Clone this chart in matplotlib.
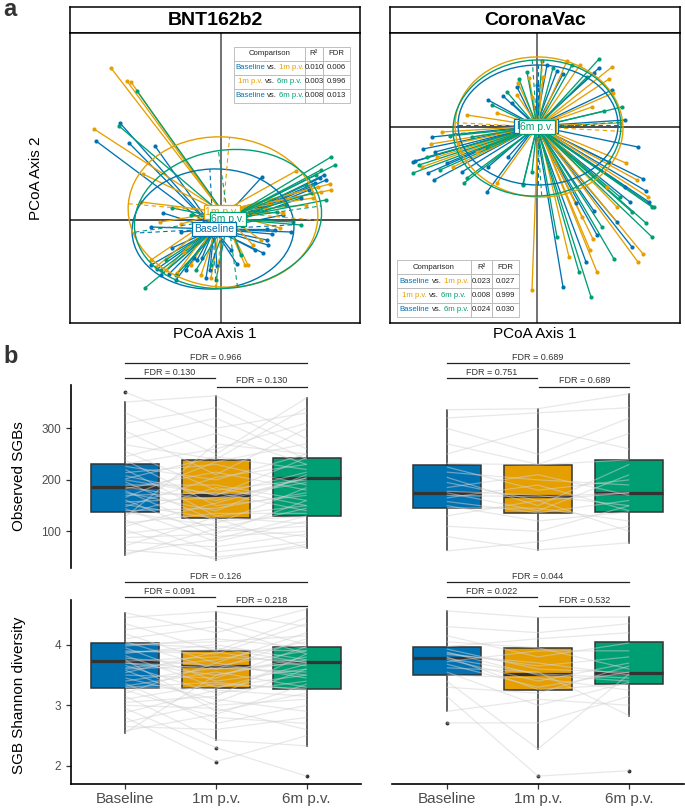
import numpy as np
import matplotlib
matplotlib.use("Agg")
import matplotlib.pyplot as plt
from matplotlib.patches import Ellipse, Rectangle
from matplotlib.collections import LineCollection
from matplotlib.offsetbox import TextArea, HPacker, AnnotationBbox

plt.rcParams["font.family"] = ["Liberation Sans", "DejaVu Sans"]

groups = ["Baseline", "1m p.v.", "6m p.v."]
colors = ["#0072B2", "#E69F00", "#009E73"]
comparisons = [(0, 1), (1, 2), (0, 2)]

# ---------------- panel a : PCoA scores (x1000), (axis1, axis2)
bnt_baseline = [(-101, 97), (-125, 79), (-92, 77), (-66, 74), (103, 45), (99, 42), (94, 37), (41, 43),
                (46, -9), (54, -10), (51, -14), (46, -20), (42, -33), (34, -30), (16, -44), (47, -25),
                (105, 40), (88, 30), (80, 22), (62, 5), (70, -12), (-70, -7), (-58, 7), (-40, -12),
                (-64, -49), (-52, -54), (-49, -28), (-27, -38), (-24, -40), (-19, -38), (-11, -50),
                (-4, -46), (-60, -55), (-45, -60), (-35, -50), (-15, -58), (-70, -45), (10, -30)]
bnt_1m = [(-110, 152), (-94, 139), (-90, 138), (-127, 91), (-78, 46), (109, 36), (97, 33), (92, 22),
          (75, 49), (62, 7), (59, -8), (32, -25), (27, -45), (24, -45), (100, 28), (85, 15), (110, 30),
          (-61, -2), (-80, 18), (-40, -4), (-65, -47), (-44, -53), (-37, -32), (-55, -50), (-30, -45),
          (-70, -40), (-20, -55), (-10, -58), (40, -20)]
bnt_6m = [(-84, 129), (-102, 94), (110, 63), (114, 55), (91, 27), (72, -2), (56, 8), (95, 45), (100, 50),
          (85, 35), (105, 20), (65, 15), (80, -5), (-49, 12), (-30, 5), (-76, -68), (-60, -50), (-45, -55),
          (-55, -40), (-35, -45), (-25, -50), (-10, -45), (-5, -60), (20, -35)]
bnt_centroids = [(-7, -9), (1, 8), (7, 1)]
# ellipse centre, semi axis 1, semi axis 2, angle (deg)
bnt_ellipses = [((-8, -9), 81, 60, 3), ((2, 8), 95, 75, -5), ((7, 1), 94, 69, 8)]
bnt_r2 = ["0.010", "0.003", "0.008"]
bnt_fdr = ["0.006", "0.996", "0.013"]

cv_baseline = [(101, -20), (106, -52), (109, -64), (112, -75), (93, -75), (57, -84), (95, -120), (60, -108),
               (49, -135), (26, -160), (39, -76), (72, -35), (88, -60), (80, -95), (-122, -34), (-114, -22),
               (-105, -10), (-90, -36), (-75, -45), (-49, -40), (-29, -30), (-50, -65), (-102, -25),
               (-124, -35), (-103, -53), (-109, -46), (62, 59), (57, 54), (26, 53), (20, 56), (0, 42),
               (-34, 31), (-49, 27), (-25, 24), (75, 37), (88, 7), (-20, 40), (10, 62)]
cv_1m = [(89, -36), (100, -53), (111, -70), (106, -127), (101, -135), (56, -112), (53, -123), (60, -145),
         (32, -130), (-5, -163), (80, -80), (70, -60), (45, -90), (-106, -17), (-84, -40), (-40, -56),
         (-70, 12), (-79, -16), (-100, -30), (-115, -40), (-60, -25), (-95, -5), (75, 60), (43, 62),
         (72, 48), (76, 34), (55, 20), (83, 4), (6, 50), (-8, 49), (-19, 44), (-20, 32), (-40, 14),
         (30, 66), (-5, 30)]
cv_6m = [(115, -80), (117, -80), (83, -70), (109, -96), (115, -110), (77, -132), (42, -145), (54, -170),
         (-5, -45), (-14, -57), (95, -85), (65, -100), (20, -110), (-124, -46), (-87, -9), (-97, -43),
         (-70, -51), (-14, -58), (-65, -10), (-73, -56), (-110, -30), (-50, -20), (-118, -38), (62, 68),
         (67, 16), (16, 59), (-18, 48), (-30, 35), (50, 50), (85, 20), (-45, 22), (35, 62), (5, 66),
         (-10, 55)]
cv_centroids = [(-1, 1), (1, 1), (0, 0)]
cv_ellipses = [((1, 2), 80, 60, 0), ((2, 0), 84, 70, -3), ((0, -1), 84, 68, 4)]
cv_r2 = ["0.023", "0.008", "0.024"]
cv_fdr = ["0.027", "0.999", "0.030"]

# ---------------- panel b : per subject values
bnt_obs = [
    [370, 351, 330, 310, 295, 280, 268, 255, 245, 238, 231, 226, 220, 214, 208, 202, 196, 190, 186, 183, 179,
     175, 170, 166, 161, 157, 152, 148, 144, 140, 137, 133, 128, 122, 116, 110, 103, 96, 88, 80, 72, 64, 58, 54, 200],
    [300, 363, 250, 340, 210, 320, 240, 180, 290, 150, 260, 200, 130, 230, 170, 245, 120, 190, 160, 215, 100,
     140, 175, 235, 90, 165, 125, 205, 80, 145, 110, 185, 270, 60, 135, 155, 45, 115, 95, 70, 128, 50, 85, 105, 171],
    [330, 280, 359, 260, 300, 240, 340, 200, 230, 170, 310, 250, 150, 190, 243, 220, 129, 160, 204, 180, 110,
     210, 140, 270, 100, 195, 68, 230, 120, 175, 90, 150, 250, 80, 135, 204, 75, 185, 160, 95, 115, 70, 130, 145, 215]]
cv_obs = [
    [336, 320, 300, 270, 250, 232, 225, 215, 205, 195, 185, 178, 175, 170, 165, 158, 150, 146, 130, 110, 90, 62],
    [338, 330, 250, 230, 300, 229, 180, 200, 150, 160, 210, 170, 140, 167, 190, 136, 120, 145, 160, 100, 64, 80],
    [367, 340, 320, 290, 260, 239, 200, 190, 230, 175, 170, 150, 210, 175, 140, 160, 138, 120, 100, 150, 78, 110]]
bnt_sha = [
    [4.53, 4.45, 4.35, 4.25, 4.18, 4.10, 4.05, 4.02, 3.98, 3.95, 3.90, 3.86, 3.82, 3.78, 3.75, 3.73, 3.70, 3.66,
     3.62, 3.58, 3.54, 3.50, 3.45, 3.40, 3.36, 3.32, 3.29, 3.25, 3.20, 3.15, 3.10, 3.05, 3.00, 2.95, 2.88, 2.80,
     2.72, 2.65, 2.58, 2.55, 3.88, 3.60, 4.00, 3.30, 3.70],
    [4.20, 4.55, 3.90, 4.40, 3.70, 4.30, 3.60, 3.95, 4.10, 3.40, 3.85, 4.00, 3.30, 3.65, 2.90, 3.80, 3.50, 3.20,
     3.75, 3.00, 3.88, 3.45, 3.10, 3.62, 2.70, 3.55, 3.28, 2.80, 3.70, 2.43, 3.35, 3.15, 2.95, 2.30, 3.25, 2.07,
     3.05, 2.60, 2.85, 3.50, 3.92, 3.66, 4.05, 3.38, 3.60],
    [4.59, 4.30, 4.45, 4.00, 4.20, 3.85, 4.10, 3.70, 3.95, 3.60, 4.35, 3.75, 3.50, 3.90, 3.20, 3.72, 3.80, 3.40,
     4.05, 3.10, 3.65, 3.97, 2.90, 3.55, 3.00, 3.30, 3.68, 2.70, 3.45, 2.33, 3.27, 3.85, 2.60, 1.83, 3.15, 2.50,
     3.60, 2.80, 3.35, 3.75, 3.90, 3.50, 4.15, 3.25, 3.70]]
cv_sha = [
    [4.56, 4.30, 4.15, 4.05, 3.97, 3.93, 3.88, 3.84, 3.80, 3.78, 3.76, 3.72, 3.68, 3.62, 3.55, 3.50, 3.40, 3.30,
     3.15, 2.90, 2.71, 3.86],
    [4.45, 4.20, 3.80, 3.95, 4.10, 3.60, 3.50, 3.70, 3.26, 3.52, 3.40, 3.90, 3.30, 3.55, 3.00, 3.45, 2.28, 3.20,
     1.83, 3.10, 2.71, 3.65],
    [4.46, 4.35, 4.03, 3.60, 4.20, 3.54, 3.40, 3.50, 3.35, 3.45, 3.70, 3.90, 3.55, 2.83, 3.38, 3.25, 3.52, 3.65,
     1.92, 3.00, 3.15, 3.80]]

# box stats: (whisker low, q1, median, q3, whisker high)
bnt_obs_box = [(54, 138, 186, 231, 351), (45, 126, 171, 239, 363), (68, 129, 204, 243, 359)]
bnt_obs_out = [[370], [], []]
cv_obs_box = [(63, 146, 174, 229, 336), (64, 135, 168, 229, 337), (77, 138, 174, 239, 366)]
cv_obs_out = [[], [], []]
bnt_sha_box = [(2.55, 3.29, 3.73, 4.03, 4.53), (2.43, 3.29, 3.65, 3.90, 4.55), (2.33, 3.27, 3.72, 3.97, 4.59)]
bnt_sha_out = [[], [2.30, 2.07], [1.83]]
cv_sha_box = [(2.90, 3.50, 3.78, 3.97, 4.56), (2.28, 3.26, 3.52, 3.95, 4.45), (2.83, 3.36, 3.53, 4.04, 4.46)]
cv_sha_out = [[2.71], [1.83], [1.92]]

bnt_obs_fdr = ["0.966", "0.130", "0.130"]
cv_obs_fdr = ["0.689", "0.751", "0.689"]
bnt_sha_fdr = ["0.126", "0.091", "0.218"]
cv_sha_fdr = ["0.044", "0.022", "0.532"]
bracket_pairs = [(1, 3), (1, 1.985), (2.015, 3)]
obs_levels = [427, 398, 381]
sha_levels = [5.04, 4.79, 4.64]

W, H = 685, 809
fig = plt.figure(figsize=(W / 100, H / 100), dpi=100)


def rect(x0, y0, x1, y1):
    return [x0 / W, 1 - y1 / H, (x1 - x0) / W, (y1 - y0) / H]


def draw_table(ax, x0, ytop, widths, rowh, r2, fdr):
    xs = np.concatenate([[x0], x0 + np.cumsum(widths)])
    for r in range(4):
        yb = ytop - (r + 1) * rowh
        for c in range(3):
            ax.add_patch(Rectangle((xs[c], yb), widths[c], rowh, transform=ax.transAxes,
                                   facecolor="white", edgecolor="#b5b5b5", lw=0.6, zorder=6))
        yc = yb + rowh / 2
        if r == 0:
            for c, t in enumerate(["Comparison", "R²", "FDR"]):
                ax.text((xs[c] + xs[c + 1]) / 2, yc, t, transform=ax.transAxes, ha="center",
                        va="center", fontsize=5.6, color="#222222", zorder=7)
            continue
        i, j = comparisons[r - 1]
        pieces = [TextArea(groups[i], textprops=dict(color=colors[i], size=5.6)),
                  TextArea("vs.", textprops=dict(color="#222222", size=5.6)),
                  TextArea(groups[j], textprops=dict(color=colors[j], size=5.6))]
        pack = HPacker(children=pieces, pad=0, sep=1.6, align="baseline")
        ab = AnnotationBbox(pack, ((xs[0] + xs[1]) / 2, yc), xycoords="axes fraction",
                            frameon=False, box_alignment=(0.5, 0.5), pad=0, zorder=7)
        ax.add_artist(ab)
        for c, t in [(1, r2[r - 1]), (2, fdr[r - 1])]:
            ax.text((xs[c] + xs[c + 1]) / 2, yc, t, transform=ax.transAxes, ha="center",
                    va="center", fontsize=5.6, color="#222222", zorder=7)


def pcoa_panel(box, title, pts, cents, ells, xlim, ylim, tab, r2, fdr, label_order):
    x0, y0, x1, y1 = box
    sax = fig.add_axes(rect(x0, y0 - 26, x1, y0))
    sax.set_xticks([])
    sax.set_yticks([])
    for s in sax.spines.values():
        s.set_linewidth(1.1)
    sax.text(0.5, 0.48, title, ha="center", va="center", fontsize=14, fontweight="bold")

    ax = fig.add_axes(rect(x0, y0, x1, y1))
    ax.set_xlim(xlim)
    ax.set_ylim(ylim)
    ax.set_xticks([])
    ax.set_yticks([])
    for s in ax.spines.values():
        s.set_linewidth(1.1)
    ax.axhline(0, color="#1a1a1a", lw=1.1, zorder=1)
    ax.axvline(0, color="#4a4a4a", lw=1.1, zorder=1)
    for g in range(3):
        p = np.array(pts[g]) / 1000
        cx, cy = np.array(cents[g]) / 1000
        segs = [[(cx, cy), (x, y)] for x, y in p]
        ax.add_collection(LineCollection(segs, colors=colors[g], linewidths=0.95, zorder=2))
        ax.scatter(p[:, 0], p[:, 1], s=9, color=colors[g], linewidths=0, zorder=3)
    for g in range(3):
        (ex, ey), a, b, ang = ells[g]
        ex, ey, a, b = ex / 1000, ey / 1000, a / 1000, b / 1000
        ax.add_patch(Ellipse((ex, ey), 2 * a, 2 * b, angle=ang, fill=False,
                             edgecolor=colors[g], lw=1.0, zorder=4))
        t = np.deg2rad(ang)
        for (ux, uy), L in [((np.cos(t), np.sin(t)), a), ((-np.sin(t), np.cos(t)), b)]:
            ax.plot([ex - L * ux, ex + L * ux], [ey - L * uy, ey + L * uy], color=colors[g],
                    lw=0.8, ls=(0, (4, 3)), zorder=4)
    for g in label_order:
        cx, cy = np.array(cents[g]) / 1000
        ax.text(cx, cy, groups[g], ha="center", va="center", fontsize=7.5, color=colors[g], zorder=5,
                bbox=dict(boxstyle="square,pad=0.15", facecolor="white", edgecolor=colors[g], lw=0.9))
    draw_table(ax, tab[0], tab[1], tab[2], tab[3], r2, fdr)
    return ax


pcoa_panel((70, 33, 360, 323), "BNT162b2", [bnt_baseline, bnt_1m, bnt_6m], bnt_centroids, bnt_ellipses,
           (-0.151, 0.139), (-0.103, 0.187), (0.566, 0.952, [0.244, 0.062, 0.094], 0.048),
           bnt_r2, bnt_fdr, [1, 2, 0])
pcoa_panel((390, 33, 680, 323), "CoronaVac", [cv_baseline, cv_1m, cv_6m], cv_centroids, cv_ellipses,
           (-0.147, 0.143), (-0.196, 0.094), (0.024, 0.217, [0.255, 0.073, 0.093], 0.049),
           cv_r2, cv_fdr, [0, 1, 2])

fig.text(36 / W, 1 - 178 / H, "PCoA Axis 2", rotation=90, ha="center", va="center", fontsize=11)
fig.text(215 / W, 1 - 334 / H, "PCoA Axis 1", ha="center", va="center", fontsize=11)
fig.text(535 / W, 1 - 334 / H, "PCoA Axis 1", ha="center", va="center", fontsize=11)


def box_panel(box, subj, bstats, outs, fdrs, levels, ylim, left, bottom, yticks=None):
    ax = fig.add_axes(rect(*box))
    stats = [dict(whislo=lo, q1=q1, med=md, q3=q3, whishi=hi, fliers=o)
             for (lo, q1, md, q3, hi), o in zip(bstats, outs)]
    bp = ax.bxp(stats, positions=[1, 2, 3], widths=0.75, patch_artist=True, showcaps=False,
                boxprops=dict(edgecolor="#333333", linewidth=1.1),
                medianprops=dict(color="#333333", linewidth=2.3),
                whiskerprops=dict(color="#333333", linewidth=1.1),
                flierprops=dict(marker="o", markersize=2.8, markerfacecolor="#333333",
                                markeredgecolor="none"),
                zorder=2)
    for patch, c in zip(bp["boxes"], colors):
        patch.set_facecolor(c)
    lines = [np.column_stack([[1, 2, 3], [subj[0][k], subj[1][k], subj[2][k]]])
             for k in range(len(subj[0]))]
    ax.add_collection(LineCollection(lines, colors="#d2d2d2", alpha=0.5, linewidths=0.9, zorder=3))
    ax.set_xlim(0.4, 3.6)
    ax.set_ylim(ylim)
    for side in ["top", "right"]:
        ax.spines[side].set_visible(False)
    ax.spines["left"].set_visible(left)
    ax.spines["bottom"].set_visible(bottom)
    ax.spines["left"].set_linewidth(1.2)
    ax.spines["bottom"].set_linewidth(1.2)
    ax.tick_params(colors="#333333", length=3.5, width=0.9)
    if left:
        ax.set_yticks(yticks)
        ax.tick_params(axis="y", labelsize=8.5, labelcolor="#4d4d4d", pad=3.5)
    else:
        ax.set_yticks([])
    if bottom:
        ax.set_xticks([1, 2, 3], groups)
        ax.tick_params(axis="x", labelsize=11, labelcolor="#4d4d4d", pad=2.5)
    else:
        ax.set_xticks([])
    for (xa, xb), y, f in zip(bracket_pairs, levels, fdrs):
        ax.plot([xa, xb], [y, y], color="#222222", lw=0.9, clip_on=False, zorder=5)
        ax.annotate("FDR = " + f, ((xa + xb) / 2, y), xytext=(0, 0.8), textcoords="offset points",
                    ha="center", va="bottom", fontsize=6.5, color="#333333", annotation_clip=False)
    return ax


box_panel((71, 385, 361, 568), bnt_obs, bnt_obs_box, bnt_obs_out, bnt_obs_fdr, obs_levels,
          (29, 384), True, False, [100, 200, 300])
box_panel((392, 385, 684, 568), cv_obs, cv_obs_box, cv_obs_out, cv_obs_fdr, obs_levels,
          (29, 384), False, False)
box_panel((71, 600, 361, 784), bnt_sha, bnt_sha_box, bnt_sha_out, bnt_sha_fdr, sha_levels,
          (1.70, 4.74), True, True, [2, 3, 4])
box_panel((392, 600, 684, 784), cv_sha, cv_sha_box, cv_sha_out, cv_sha_fdr, sha_levels,
          (1.70, 4.74), False, True)

fig.text(19 / W, 1 - 476 / H, "Observed SGBs", rotation=90, ha="center", va="center", fontsize=11)
fig.text(19 / W, 1 - 695 / H, "SGB Shannon diversity", rotation=90, ha="center", va="center", fontsize=11)

fig.text(3 / W, 1 - 16 / H, "a", fontsize=17, fontweight="bold", va="baseline", color="#333333")
fig.text(3 / W, 1 - 363 / H, "b", fontsize=17, fontweight="bold", va="baseline", color="#333333")

fig.savefig("out.png", dpi=100)
